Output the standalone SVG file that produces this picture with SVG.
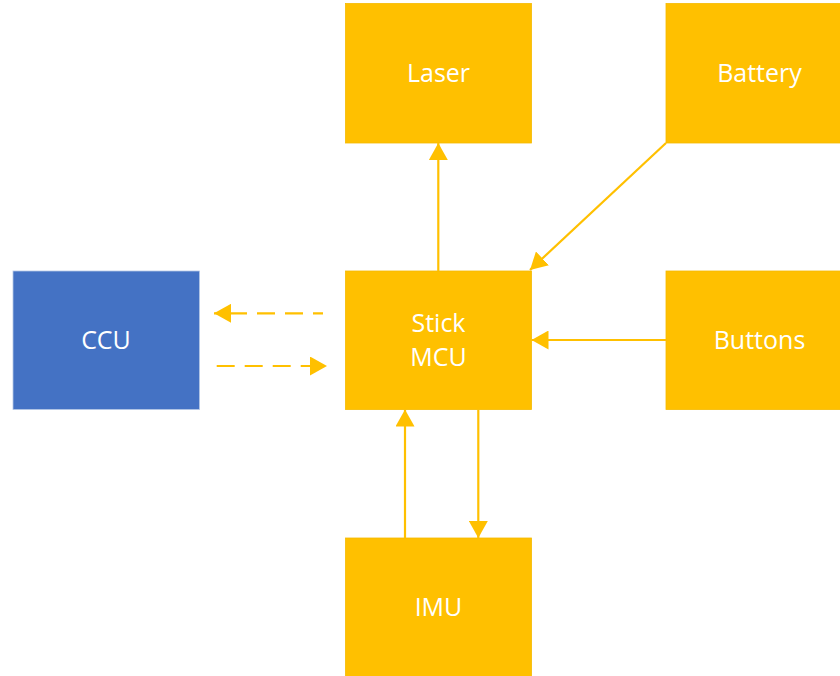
<svg xmlns="http://www.w3.org/2000/svg" width="840" height="676" viewBox="0 0 840 676">
<defs>
<style>
.box{fill:#FFC000;stroke:#F5BA00;stroke-width:0.8}
.blue{fill:#4472C4;stroke:#B4C7E7;stroke-width:0.8}
.lbl{font-family:"Open Sans","DejaVu Sans",sans-serif;font-size:25px;fill:#FFFFFF;text-anchor:middle}
.ln{stroke:#FFC000;stroke-width:2.2;fill:none}
.dash{stroke:#FFC000;stroke-width:2.2;fill:none;stroke-dasharray:18 10}
</style>
<marker id="ah" viewBox="0 0 17 19" refX="17" refY="9.5" markerWidth="17" markerHeight="19" markerUnits="userSpaceOnUse" orient="auto">
<path d="M0,0 L17,9.5 L0,19 Z" fill="#FFC000"/>
</marker>
</defs>
<rect width="840" height="676" fill="#FFFFFF"/>
<g id="laser"><rect class="box" x="345.5" y="3.5" width="186" height="139.5"/><text class="lbl" x="438.5" y="82">Laser</text></g>
<g id="battery"><rect class="box" x="666" y="3.5" width="186" height="139.5"/><text class="lbl" x="759.5" y="82">Battery</text></g>
<g id="ccu"><rect class="blue" x="13" y="271" width="186.5" height="138.5"/><text class="lbl" x="106" y="349">CCU</text></g>
<g id="mcu"><rect class="box" x="345.5" y="271" width="186" height="138.5"/><text class="lbl" x="438.5" y="331.5">Stick</text><text class="lbl" x="438.5" y="366">MCU</text></g>
<g id="buttons"><rect class="box" x="666" y="271" width="186" height="138.5"/><text class="lbl" x="759.5" y="349">Buttons</text></g>
<g id="imu"><rect class="box" x="345.5" y="538" width="186" height="139"/><text class="lbl" x="438.5" y="616">IMU</text></g>
<g id="connectors">
<line class="ln" x1="438.3" y1="271" x2="438.3" y2="143" marker-end="url(#ah)"/>
<line class="ln" x1="666" y1="143" x2="530" y2="270" marker-end="url(#ah)"/>
<line class="ln" x1="666" y1="340" x2="531.5" y2="340" marker-end="url(#ah)"/>
<line class="dash" x1="323" y1="313.3" x2="214" y2="313.3" marker-end="url(#ah)" stroke-dashoffset="8"/>
<line class="dash" x1="216.7" y1="366" x2="327" y2="366" marker-end="url(#ah)"/>
<line class="ln" x1="405" y1="538" x2="405" y2="409.5" marker-end="url(#ah)"/>
<line class="ln" x1="478.3" y1="409.5" x2="478.3" y2="538" marker-end="url(#ah)"/>
</g>
</svg>
